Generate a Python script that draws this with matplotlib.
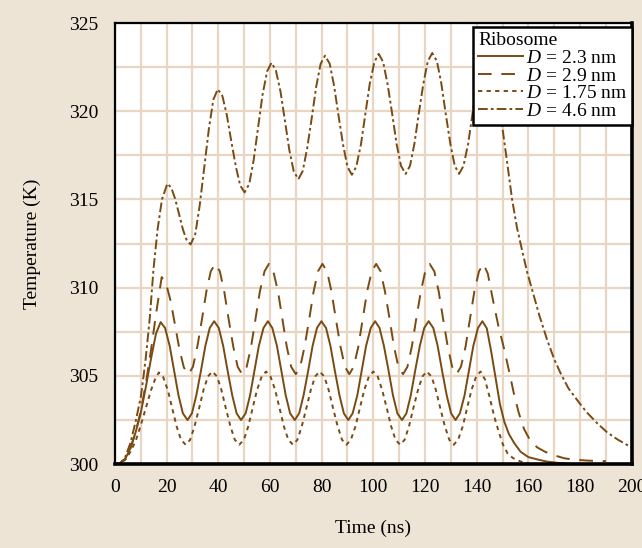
import numpy as np
import matplotlib
matplotlib.use("Agg")
import matplotlib.pyplot as plt
from matplotlib.ticker import MultipleLocator

plt.rcParams['font.family'] = ['Liberation Serif', 'DejaVu Serif']
plt.rcParams['mathtext.fontset'] = 'custom'
plt.rcParams['mathtext.rm'] = 'Liberation Serif'
plt.rcParams['mathtext.it'] = 'Liberation Serif:italic'

#------------------------------data-------------------------------------#
# D = 2.3 nm (solid)
t_23 = [0, 2, 4, 6, 8, 10, 12, 14, 15.9, 17.7,
        19.4, 21.2, 22.9, 24.6, 26.3, 28.1, 29.8, 31.5, 33.3, 35.0, 36.7, 38.4,
        40.2, 41.9, 43.6, 45.4, 47.1, 48.8, 50.6, 52.3, 54.0, 55.7, 57.5, 59.2,
        60.9, 62.7, 64.4, 66.1, 67.8, 69.6, 71.3, 73.0, 74.8, 76.5, 78.2, 79.9,
        81.7, 83.4, 85.1, 86.9, 88.6, 90.3, 92.0, 93.8, 95.5, 97.2, 99.0, 100.7,
        102.4, 104.1, 105.9, 107.6, 109.3, 111.1, 112.8, 114.5, 116.2, 118.0, 119.7, 121.4,
        123.2, 124.9, 126.6, 128.4, 130.1, 131.8, 133.5, 135.3, 137.0, 138.7, 140.5, 142.2,
        143.9, 145.6, 147.3, 149.0, 150.7, 152.5, 154.5, 157, 160, 163.4, 167, 171, 175]
T_23 = [300.0, 300.05, 300.3, 300.9, 301.8, 302.9, 304.4, 306.0, 307.4, 308.05,
        307.72, 306.7, 305.3, 303.9, 302.88, 302.5, 302.88, 303.9, 305.3, 306.7, 307.72, 308.1,
        307.72, 306.7, 305.3, 303.9, 302.88, 302.5, 302.88, 303.9, 305.3, 306.7, 307.72, 308.1,
        307.72, 306.7, 305.3, 303.9, 302.88, 302.5, 302.88, 303.9, 305.3, 306.7, 307.72, 308.1,
        307.72, 306.7, 305.3, 303.9, 302.88, 302.5, 302.88, 303.9, 305.3, 306.7, 307.72, 308.1,
        307.72, 306.7, 305.3, 303.9, 302.88, 302.5, 302.88, 303.9, 305.3, 306.7, 307.72, 308.1,
        307.72, 306.7, 305.3, 303.9, 302.88, 302.5, 302.88, 303.9, 305.3, 306.7, 307.72, 308.1,
        307.7, 306.4, 304.9, 303.4, 302.4, 301.7, 301.2, 300.7, 300.4, 300.27, 300.15, 300.08, 300.03]

# D = 2.9 nm (long dash)
t_29 = [0, 2, 4, 6, 8, 10, 12, 14, 16, 18.1,
        19.8, 21.6, 23.3, 25.0, 26.7, 28.5, 30.2, 31.9, 33.7, 35.4, 37.1, 38.8,
        40.6, 42.3, 44.0, 45.8, 47.5, 49.2, 51.0, 52.7, 54.4, 56.1, 57.9, 59.6,
        61.3, 63.1, 64.8, 66.5, 68.2, 70.0, 71.7, 73.4, 75.2, 76.9, 78.6, 80.3,
        82.1, 83.8, 85.5, 87.3, 89.0, 90.7, 92.4, 94.2, 95.9, 97.6, 99.4, 101.1,
        102.8, 104.5, 106.3, 108.0, 109.7, 111.5, 113.2, 114.9, 116.6, 118.4, 120.1, 121.8,
        123.6, 125.3, 127.0, 128.8, 130.5, 132.2, 133.9, 135.7, 137.4, 139.1, 140.9, 142.6,
        144.3, 146.3, 148.3, 150.5, 152.5, 154.4, 156.3, 158.3, 160.5, 163.4, 166.5, 170,
        174, 178, 183, 190]
T_29 = [300.0, 300.05, 300.3, 300.9, 301.8, 303.0, 304.6, 306.5, 308.6, 310.6,
        310.23, 309.23, 307.85, 306.48, 305.47, 305.1, 305.52, 306.66, 308.23, 309.79, 310.93, 311.35,
        310.93, 309.79, 308.23, 306.66, 305.52, 305.1, 305.52, 306.66, 308.23, 309.79, 310.93, 311.35,
        310.93, 309.79, 308.23, 306.66, 305.52, 305.1, 305.52, 306.66, 308.23, 309.79, 310.93, 311.35,
        310.93, 309.79, 308.23, 306.66, 305.52, 305.1, 305.52, 306.66, 308.23, 309.79, 310.93, 311.35,
        310.93, 309.79, 308.23, 306.66, 305.52, 305.1, 305.52, 306.66, 308.23, 309.79, 310.93, 311.35,
        310.93, 309.79, 308.23, 306.66, 305.52, 305.1, 305.52, 306.66, 308.23, 309.79, 310.93, 311.35,
        310.8, 309.3, 307.9, 306.6, 305.3, 304.0, 302.9, 302.0, 301.4, 300.95, 300.7, 300.5,
        300.33, 300.25, 300.2, 300.17]

# D = 1.75 nm (short dash)
t_175 = [0, 2, 4, 6, 8, 10, 12, 14, 15.5, 17.0,
         18.7, 20.5, 22.2, 23.9, 25.6, 27.4, 29.1, 30.8, 32.6, 34.3, 36.0, 37.7,
         39.5, 41.2, 42.9, 44.7, 46.4, 48.1, 49.9, 51.6, 53.3, 55.0, 56.8, 58.5,
         60.2, 62.0, 63.7, 65.4, 67.1, 68.9, 70.6, 72.3, 74.1, 75.8, 77.5, 79.2,
         81.0, 82.7, 84.4, 86.2, 87.9, 89.6, 91.3, 93.1, 94.8, 96.5, 98.3, 100.0,
         101.7, 103.4, 105.2, 106.9, 108.6, 110.4, 112.1, 113.8, 115.5, 117.3, 119.0, 120.7,
         122.5, 124.2, 125.9, 127.7, 129.4, 131.1, 132.8, 134.6, 136.3, 138.0, 139.8, 141.5,
         143.2, 145.0, 146.8, 148.6, 150.2, 152, 154, 157, 160]
T_175 = [300.0, 300.05, 300.25, 300.7, 301.3, 302.2, 303.2, 304.2, 304.8, 305.2,
         304.93, 304.18, 303.15, 302.13, 301.38, 301.1, 301.38, 302.14, 303.18, 304.21, 304.97, 305.25,
         304.97, 304.21, 303.18, 302.14, 301.38, 301.1, 301.38, 302.14, 303.18, 304.21, 304.97, 305.25,
         304.97, 304.21, 303.18, 302.14, 301.38, 301.1, 301.38, 302.14, 303.18, 304.21, 304.97, 305.25,
         304.97, 304.21, 303.18, 302.14, 301.38, 301.1, 301.38, 302.14, 303.18, 304.21, 304.97, 305.25,
         304.97, 304.21, 303.18, 302.14, 301.38, 301.1, 301.38, 302.14, 303.18, 304.21, 304.97, 305.25,
         304.97, 304.21, 303.18, 302.14, 301.38, 301.1, 301.38, 302.14, 303.18, 304.21, 304.97, 305.25,
         304.8, 303.8, 302.7, 301.8, 301.1, 300.6, 300.35, 300.15, 300.05]

# D = 4.6 nm (dash-dot)
t_46 = [0, 2, 4, 6, 8, 10, 11, 12, 13.5, 14.9, 16.5, 18.2, 20.3,
        21.8, 23.3, 24.8, 26.3, 27.8, 29.3, 31.1, 32.8, 34.6, 36.4, 38.1, 39.8,
        41.6, 43.3, 45.0, 46.8, 48.5, 50.2, 52.0, 53.7, 55.4, 57.1, 58.9, 60.6,
        62.3, 64.1, 65.8, 67.5, 69.2, 71.0, 72.7, 74.4, 76.2, 77.9, 79.6, 81.3,
        83.1, 84.8, 86.5, 88.3, 90.0, 91.7, 93.4, 95.2, 96.9, 98.6, 100.4, 102.1,
        103.8, 105.5, 107.3, 109.0, 110.7, 112.5, 114.2, 115.9, 117.6, 119.4, 121.1, 122.8,
        124.6, 126.3, 128.0, 129.8, 131.5, 133.2, 134.9, 136.7, 138.4, 140.1, 141.9, 143.6,
        145.3, 147.0, 148.7, 150.2, 151.6, 153.7, 155.6, 157.6, 159.5, 161.5, 164.3, 167.3,
        170, 172.5, 175.5, 178.9, 182.5, 186.7, 190.5, 194.5, 198.3, 200]
T_46 = [300.0, 300.05, 300.4, 301.2, 302.4, 303.8, 304.9, 306.1, 308.3, 311.0, 313.3, 315.0, 315.9,
        315.67, 315.04, 314.18, 313.31, 312.68, 312.45, 313.04, 314.65, 316.85, 319.05, 320.66, 321.25,
        320.86, 319.79, 318.33, 316.86, 315.79, 315.4, 315.89, 317.24, 319.08, 320.91, 322.26, 322.75,
        322.31, 321.1, 319.45, 317.8, 316.59, 316.15, 316.62, 317.9, 319.65, 321.4, 322.68, 323.15,
        322.7, 321.46, 319.78, 318.09, 316.85, 316.4, 316.86, 318.11, 319.83, 321.54, 322.79, 323.25,
        322.79, 321.55, 319.85, 318.15, 316.91, 316.45, 316.91, 318.16, 319.88, 321.59, 322.84, 323.3,
        322.84, 321.59, 319.88, 318.16, 316.91, 316.45, 316.91, 318.16, 319.88, 321.59, 322.84, 323.3,
        322.9, 321.8, 320.3, 318.8, 317.3, 315.0, 313.4, 312.1, 310.9, 309.86, 308.4, 307.03,
        305.95, 305.14, 304.3, 303.63, 302.95, 302.31, 301.8, 301.4, 301.08, 300.95]

labels = [r"$D\,{=}\,2.3$ nm", r"$D\,{=}\,2.9$ nm", r"$D\,{=}\,1.75$ nm", r"$D\,{=}\,4.6$ nm"]

#------------------------------plot-------------------------------------#
bg = "#EEE4D6"
brown = "#7A4A12"
gridc = "#E8D6C3"

fig = plt.figure(figsize=(6.42, 5.48), dpi=100, facecolor=bg)
ax = fig.add_axes([0.179, 0.153, 0.805, 0.805])
ax.set_facecolor("white")

ax.plot(t_23, T_23, color=brown, lw=1.4, label=labels[0])
ax.plot(t_29, T_29, color=brown, lw=1.4, dashes=(7, 5), label=labels[1])
ax.plot(t_175, T_175, color=brown, lw=1.4, dashes=(2.2, 2.2), label=labels[2])
ax.plot(t_46, T_46, color=brown, lw=1.4, dashes=(5, 1.6, 1.4, 1.6), label=labels[3])

ax.set_xlim(0, 200)
ax.set_ylim(300, 325)
ax.xaxis.set_major_locator(MultipleLocator(20))
ax.xaxis.set_minor_locator(MultipleLocator(10))
ax.yaxis.set_major_locator(MultipleLocator(5))
ax.yaxis.set_minor_locator(MultipleLocator(2.5))
ax.grid(True, which="both", color=gridc, lw=1.6)
ax.set_axisbelow(True)
ax.tick_params(which="both", length=0, labelsize=14, pad=11)
ax.tick_params(axis="y", pad=12)

for s in ax.spines.values():
    s.set_color("black")
    s.set_linewidth(1.6)
ax.spines["right"].set_linewidth(2.6)
ax.spines["bottom"].set_linewidth(2.6)

ax.set_xlabel("Time (ns)", fontsize=14, labelpad=17)
ax.set_ylabel("Temperature (K)", fontsize=14, labelpad=20)

leg = ax.legend(loc="upper right", bbox_to_anchor=(1.0, 0.99), title="Ribosome",
                fontsize=14, title_fontsize=14,
                frameon=True, fancybox=False, framealpha=1, edgecolor="black",
                borderaxespad=0.0, borderpad=0.25, labelspacing=0.0, handlelength=2.3,
                handletextpad=0.15)
leg._legend_box.align = "left"
leg.get_frame().set_linewidth(1.8)

plt.savefig("out.png", dpi=100, facecolor=bg)
